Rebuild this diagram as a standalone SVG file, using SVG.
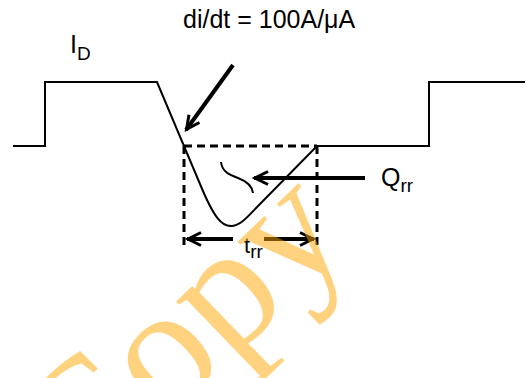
<svg xmlns="http://www.w3.org/2000/svg" width="528" height="378" viewBox="0 0 528 378">
<style>
.wave{fill:none;stroke:#000;stroke-width:2;stroke-linejoin:miter}
.dash{fill:none;stroke:#000;stroke-width:3;stroke-dasharray:8 5}
.arr{fill:none;stroke:#000;stroke-width:4}
.lbl{font-family:"Liberation Sans",Arial,sans-serif;font-size:25px;fill:#000}
.sub{font-size:19px}
</style>
<defs>
<marker id="ah" viewBox="-16 -9 20 18" markerWidth="20" markerHeight="18" refX="0" refY="0" orient="auto" markerUnits="userSpaceOnUse">
<path d="M-14,-6.5 L-1,0 L-14,6.5" fill="none" stroke="#000" stroke-width="3"/>
</marker>
</defs>
<rect width="528" height="378" fill="#fff"/>
<g id="waveform">
<path class="wave" d="M13,146 H45 V82 H157 L200,184 C214,218 222,227 232,226 C242,225 250,214 260,204 L317,146 H429 V82 H525"/>
<path class="wave" d="M221,162 C222,172 230,175 238,178 C246,181 252,185 253,193"/>
</g>
<g id="trr-box">
<path class="dash" d="M184,146 V250 M184,146 H317 M317,146 V250"/>
</g>
<g id="connectors">
<line class="arr" x1="233" y1="65" x2="186" y2="130" marker-end="url(#ah)"/>
<line class="arr" x1="365" y1="178" x2="254" y2="178" marker-end="url(#ah)"/>
<line class="arr" x1="233" y1="239" x2="187" y2="239" marker-end="url(#ah)"/>
<line class="arr" x1="264" y1="239" x2="314" y2="239" marker-end="url(#ah)"/>
</g>
<g id="labels">
<text class="lbl" x="183" y="28">di/dt = 100A/μA</text>
<text class="lbl" x="70" y="53">I<tspan class="sub" dy="7">D</tspan></text>
<text class="lbl" x="381" y="186">Q<tspan class="sub" dy="6">rr</tspan></text>
<text class="lbl" x="244" y="253" style="font-size:22px">t<tspan class="sub" dy="5">rr</tspan></text>
</g>
<text x="0" y="0" transform="translate(82,504) rotate(-44)" font-family="'Liberation Serif','Times New Roman',serif" font-size="175" fill="#FFA500" fill-opacity="0.5">Copy</text>
</svg>
